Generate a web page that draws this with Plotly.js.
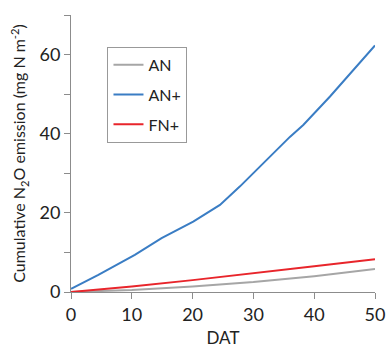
<!DOCTYPE html>
<html>
<head>
<meta charset="utf-8">
<script src="https://cdn.plot.ly/plotly-3.0.1.min.js"></script>
<style>html,body{margin:0;padding:0;background:#fff;}#chart{width:386px;height:351px;}</style>
</head>
<body>
<div id="chart"></div>
<script>
// Data
const seriesNames = ["AN", "AN+", "FN+"];
const anDays = [0, 10, 20, 30, 40, 50];
const anValues = [0, 0.5, 1.4, 2.5, 4.0, 5.8];
const anPlusDays = [0, 4.5, 10.5, 14.9, 20.1, 22.6, 24.5, 27.8, 31.6, 36, 38.2, 41, 42.6, 50];
const anPlusValues = [0.8, 4.3, 9.4, 13.6, 17.8, 20.3, 22.0, 26.7, 32.6, 39.2, 42.2, 46.8, 49.4, 62.3];
const fnPlusDays = [0, 10, 20, 30, 40, 50];
const fnPlusValues = [0, 1.4, 3.0, 4.7, 6.5, 8.3];
const xTickStep = 10;
const yLabelStep = 20;
const yMinorStep = 10;

const font = "Lato, 'Open Sans', sans-serif";
const traces = [
  {x: anDays, y: anValues, name: seriesNames[0], legendgroup: "a", line: {color: "#a6a6a6", width: 2}},
  {x: anPlusDays, y: anPlusValues, name: seriesNames[1], legendgroup: "b", line: {color: "#3a7dc4", width: 2}},
  {x: fnPlusDays, y: fnPlusValues, name: seriesNames[2], legendgroup: "c", line: {color: "#e8252b", width: 2}}
].map(t => Object.assign({type: "scatter", mode: "lines"}, t));

const layout = {
  width: 386, height: 351,
  margin: {l: 71, r: 11, t: 15, b: 59},
  paper_bgcolor: "#fff", plot_bgcolor: "#fff",
  font: {family: font, color: "#222", size: 16},
  showlegend: true,
  legend: {
    x: 0.12, y: 0.885, xanchor: "left", yanchor: "top",
    bordercolor: "#999", borderwidth: 1, bgcolor: "#fff",
    font: {size: 16, family: font, color: "#222"},
    tracegroupgap: 6, itemwidth: 30
  },
  xaxis: {
    range: [0, 50], tick0: 0, dtick: xTickStep, showgrid: false, zeroline: false,
    showline: true, linecolor: "#8c8c8c", linewidth: 1,
    ticks: "outside", ticklen: 6, tickcolor: "#8c8c8c",
    tickfont: {size: 18, family: font, color: "#222"},
    title: {text: "DAT", font: {size: 17, family: font, color: "#222"}, standoff: 8}
  },
  yaxis: {
    range: [0, 70], tick0: 0, dtick: yLabelStep, showgrid: false, zeroline: false,
    showline: true, linecolor: "#8c8c8c", linewidth: 1,
    ticks: "outside", ticklen: 6, tickcolor: "#8c8c8c",
    minor: {dtick: yMinorStep, tick0: 0, ticks: "outside", ticklen: 6, tickcolor: "#8c8c8c", showgrid: false},
    tickfont: {size: 18, family: font, color: "#222"},
    title: {text: "Cumulative N<sub>2</sub>O emission (mg N m<sup>-2</sup>)", font: {size: 16, family: font, color: "#222"}, standoff: 9}
  }
};
Plotly.newPlot("chart", traces, layout, {displayModeBar: false, staticPlot: true});
</script>
</body>
</html>
